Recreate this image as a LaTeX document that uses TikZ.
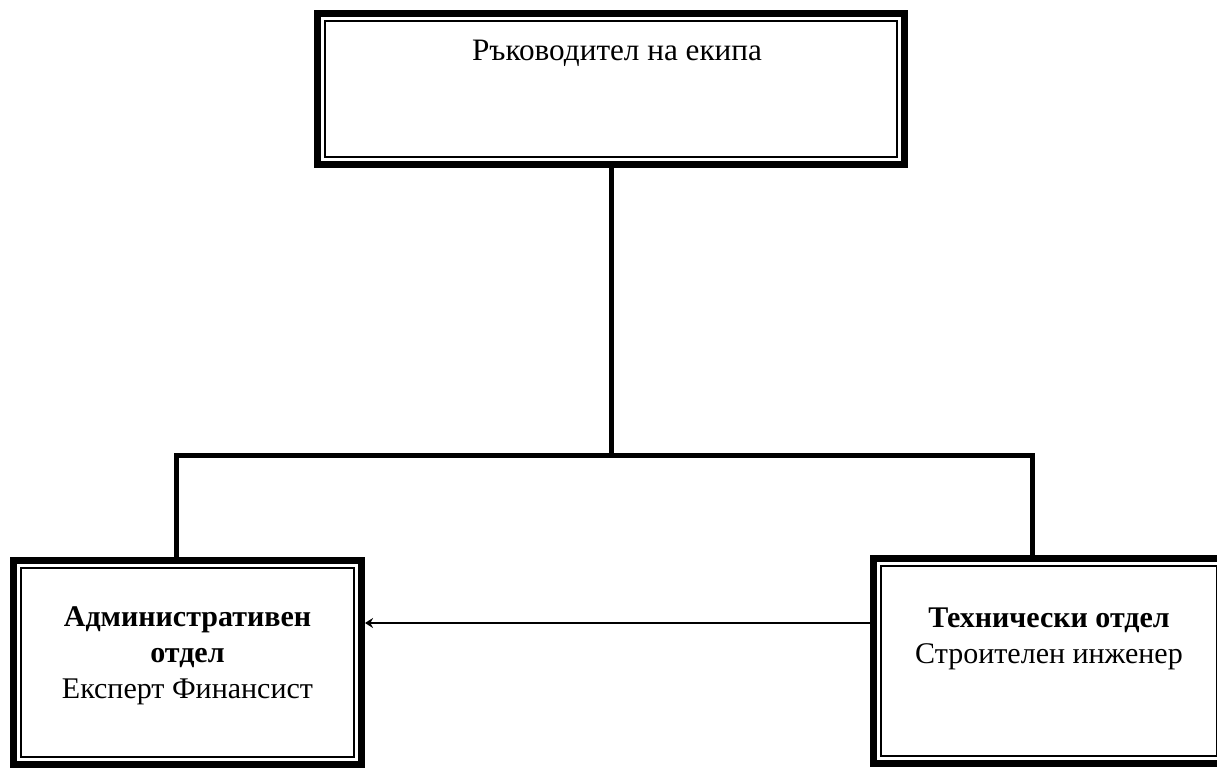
\documentclass[tikz,border=0pt]{standalone}
\usepackage{fontspec}
\setmainfont{Liberation Serif}
\usetikzlibrary{calc,arrows.meta}

\begin{document}
\begin{tikzpicture}[x=0.5pt, y=0.5pt,
  unit/.style={draw, line width=3.5pt, inner sep=0pt},
  inner frame/.style={line width=1pt},
  link/.style={line width=2.5pt},
  flow/.style={line width=1.3pt, -{Stealth[length=4pt, width=5pt]}},
  boxtext/.style={align=center, font=\fontsize{15}{18}\selectfont},
]
  \def\px{0.5pt}
  \def\fgap{11}
  \def\bary{313}
  \useasboundingbox (0, 0) rectangle (1217, 768);
  \clip (0, 0) rectangle (1217, 768);

  \node[unit, minimum width=587*\px, minimum height=151*\px] (lead) at (611, 679) {};
  \node[unit, minimum width=348*\px, minimum height=204*\px] (admin) at (187.5, 105.5) {};
  \node[unit, minimum width=351*\px, minimum height=205*\px] (tech) at (1049, 107) {};
  \foreach \b in {lead, admin, tech}
    \draw[inner frame] ($(\b.south west)+(\fgap, \fgap)$) rectangle ($(\b.north east)-(\fgap, \fgap)$);

  \node[boxtext, font=\fontsize{15.6}{18}\selectfont] (lead text) at ($(lead.north)+(6, -43)$) {Ръководител на екипа};
  \node[boxtext] (admin text) at ($(admin.north)+(0, -99)$) {\textbf{Административен}\\\textbf{отдел}\\Експерт Финансист};
  \node[boxtext] (tech text) at ($(tech.north)+(0, -83.5)$) {\textbf{Технически отдел}\\Строителен инженер};

  \coordinate (split) at (611, \bary);
  \coordinate (bar left) at (176, \bary);
  \coordinate (bar right) at (1032, \bary);
  \coordinate (flow level) at (0, 145);

  \draw[link] (lead.south) -- (split);
  \draw[link] (admin.north -| bar left) |- (bar right) -- (tech.north -| bar right);
  \draw[flow] (tech.west |- flow level) -- (admin.east |- flow level);
\end{tikzpicture}
\end{document}
